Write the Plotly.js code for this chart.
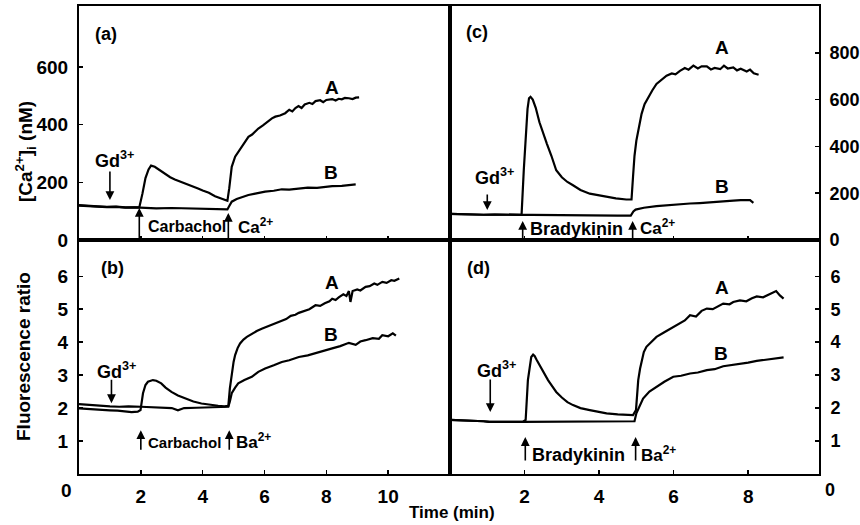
<!DOCTYPE html>
<html><head><meta charset="utf-8">
<script src="https://cdn.plot.ly/plotly-3.0.1.min.js"></script>
<style>body{margin:0;background:#fff}#chart{width:860px;height:525px}</style>
</head><body><div id="chart"></div><script>
// ---- Data ----
// Panel (a): [Ca2+]i (nM), carbachol then Ca2+
const aA_x = [0,0.3,0.6,0.9,1.2,1.5,1.8,1.95,2.05,2.15,2.25,2.33,2.45,2.6,2.77,2.95,3.1,3.31,3.5,3.7,3.85,4.0,4.2,4.4,4.55,4.72,4.8,4.86,4.94,5.05,5.15,5.26,5.37,5.48,5.6,5.7,5.8,5.95,6.1,6.24,6.35,6.5,6.67,6.8,6.9,7.0,7.1,7.2,7.3,7.45,7.55,7.65,7.8,7.9,8.0,8.1,8.19,8.3,8.4,8.5,8.6,8.73,8.85,8.95,9.06];
const aA_y = [121,118,117,115,116,113,114,113,160,215,245,258,254,243,231,218,210,202,194,186,179,172,164,152,146,139,136,180,254,289,305,324,338,358,366,378,387,398,412,422,428,432,440,452,446,458,465,458,470,476,472,482,485,478,486,488,489,484,490,488,493,492,489,494,495];
const aB_x = [0,0.3,0.6,0.9,1.2,1.5,1.8,2.1,2.5,3.0,3.5,4.0,4.5,4.8,4.86,4.94,5.1,5.3,5.48,5.7,6.02,6.3,6.56,6.8,7.1,7.4,7.7,8.0,8.19,8.5,8.7,8.95];
const aB_y = [119,117,116,114,115,112,113,111,110,111,109,108,107,106,118,133,142,150,156,161,168,171,176,175,179,182,181,185,187,188,190,193];
// Panel (c): [Ca2+]i (nM), bradykinin then Ca2+
const cA_x = [0,0.3,0.6,0.9,1.2,1.5,1.75,1.92,1.98,2.03,2.08,2.12,2.16,2.22,2.3,2.4,2.5,2.6,2.72,2.85,3.0,3.15,3.3,3.5,3.75,4.0,4.2,4.45,4.73,4.87,4.91,4.95,5.0,5.07,5.14,5.22,5.32,5.43,5.54,5.67,5.81,5.95,6.05,6.17,6.3,6.4,6.53,6.65,6.75,6.89,7.0,7.1,7.25,7.35,7.45,7.6,7.7,7.8,7.96,8.05,8.15,8.28];
const cA_y = [112,110,111,108,109,107,108,107,300,456,560,606,612,600,565,503,455,411,360,298,268,248,234,214,198,190,184,178,173,173,269,360,425,490,539,580,610,640,667,685,702,712,708,723,735,728,745,733,742,742,729,735,730,745,733,738,725,732,720,728,712,706];
const cB_x = [0,0.3,0.6,0.9,1.2,1.5,1.75,1.92,2.2,2.6,3.0,3.5,4.0,4.5,4.85,4.92,4.98,5.2,5.54,5.8,6.1,6.44,6.7,7.0,7.33,7.6,7.8,8.05,8.14];
const cB_y = [112,110,111,108,109,107,108,107,107,106,106,105,105,104,104,122,130,138,145,149,152,156,158,162,167,168,170,170,159];
// Panel (b): fluorescence ratio, carbachol then Ba2+
const bA_x = [0,0.25,0.5,0.75,1.0,1.25,1.5,1.7,1.9,1.99,2.07,2.15,2.23,2.39,2.5,2.66,2.8,2.99,3.2,3.42,3.7,3.96,4.2,4.5,4.7,4.83,4.88,4.94,5.0,5.05,5.13,5.21,5.32,5.43,5.6,5.75,5.91,6.1,6.3,6.56,6.7,6.85,7.0,7.11,7.3,7.45,7.65,7.8,7.95,8.1,8.19,8.3,8.4,8.55,8.65,8.73,8.78,8.85,9.0,9.1,9.27,9.4,9.55,9.65,9.81,9.95,10.1,10.2,10.36];
const bA_y = [1.99,1.97,1.96,1.95,1.93,1.92,1.9,1.88,1.89,1.94,2.45,2.7,2.8,2.85,2.83,2.75,2.62,2.49,2.38,2.29,2.2,2.14,2.1,2.07,2.05,2.07,2.6,3.05,3.4,3.61,3.82,3.96,4.08,4.16,4.27,4.34,4.41,4.48,4.56,4.67,4.7,4.8,4.83,4.89,4.95,5.0,5.12,5.1,5.18,5.24,5.32,5.28,5.36,5.45,5.4,5.55,5.22,5.55,5.6,5.57,5.68,5.7,5.78,5.74,5.83,5.8,5.88,5.86,5.93];
const bB_x = [0,0.25,0.5,0.75,1.0,1.3,1.6,2.0,2.4,2.8,3.0,3.2,3.4,3.8,4.2,4.6,4.83,4.88,4.94,5.05,5.15,5.35,5.59,5.8,6.02,6.3,6.56,6.8,7.11,7.4,7.65,7.9,8.19,8.45,8.73,8.95,9.1,9.27,9.5,9.7,9.81,10.0,10.15,10.25];
const bB_y = [2.12,2.1,2.09,2.07,2.05,2.04,2.05,2.04,2.03,2.02,2.0,1.93,2.0,2.01,2.02,2.03,2.04,2.2,2.45,2.62,2.75,2.85,2.95,3.1,3.2,3.3,3.4,3.45,3.55,3.6,3.66,3.73,3.81,3.88,3.98,3.92,4.02,4.06,4.12,4.1,4.21,4.18,4.27,4.2];
// Panel (d): fluorescence ratio, bradykinin then Ba2+
const dA_x = [0,0.3,0.6,0.9,1.06,1.3,1.6,1.95,2.03,2.09,2.14,2.18,2.23,2.27,2.33,2.4,2.5,2.63,2.75,2.85,3.0,3.15,3.3,3.5,3.75,4.0,4.2,4.5,4.75,4.91,4.99,5.05,5.1,5.14,5.2,5.27,5.4,5.54,5.75,5.99,6.2,6.3,6.44,6.6,6.75,6.89,7.05,7.2,7.33,7.5,7.6,7.78,7.95,8.1,8.23,8.4,8.55,8.68,8.75,8.85,8.95];
const dA_y = [1.64,1.63,1.62,1.6,1.58,1.59,1.58,1.58,1.64,2.85,3.35,3.55,3.62,3.58,3.45,3.3,3.1,2.85,2.65,2.49,2.32,2.18,2.09,2.0,1.94,1.88,1.84,1.81,1.8,1.79,1.94,2.85,3.2,3.45,3.7,3.86,4.02,4.16,4.3,4.46,4.6,4.66,4.82,4.78,4.95,5.02,5.0,5.1,5.17,5.15,5.22,5.27,5.24,5.33,5.39,5.36,5.44,5.49,5.55,5.42,5.32];
const dB_x = [0,0.3,0.6,0.9,1.06,1.3,1.6,1.95,2.3,2.8,3.3,3.8,4.3,4.7,4.95,5.0,5.08,5.18,5.35,5.54,5.75,5.99,6.2,6.44,6.65,6.89,7.1,7.33,7.55,7.78,8.0,8.23,8.5,8.7,8.95];
const dB_y = [1.64,1.63,1.62,1.6,1.58,1.59,1.58,1.58,1.58,1.59,1.58,1.59,1.6,1.6,1.6,1.84,2.05,2.29,2.5,2.65,2.8,2.95,2.98,3.05,3.08,3.15,3.18,3.27,3.3,3.35,3.38,3.43,3.47,3.5,3.54];

// tick labels
const ticksCaLeft = [0,200,400,600];
const ticksCaRight = [0,200,400,600,800];
const ticksRatio = [1,2,3,4,5,6];
const ticksTimeLeft = [2,4,6,8,10];
const ticksTimeRight = [2,4,6,8];

// ---- Layout ----
const W = 860, H = 525;
const F = 'Liberation Sans, Arial, sans-serif';
const px = x => x / W, py = y => 1 - y / H;
const font = (s) => ({family: F, size: s, color: '#000', weight: 'bold'});

function line(x, y, xa, ya) {
  return {x, y, xaxis: xa, yaxis: ya, type: 'scatter', mode: 'lines',
    line: {color: '#000', width: 2.2}, hoverinfo: 'skip', showlegend: false};
}
const data = [
  line(aA_x, aA_y, 'x', 'y'), line(aB_x, aB_y, 'x', 'y'),
  line(cA_x, cA_y, 'x2', 'y2'), line(cB_x, cB_y, 'x2', 'y2'),
  line(bA_x, bA_y, 'x3', 'y3'), line(bB_x, bB_y, 'x3', 'y3'),
  line(dA_x, dA_y, 'x4', 'y4'), line(dB_x, dB_y, 'x4', 'y4')
];

const base = {showline: true, linecolor: '#000', linewidth: 2, mirror: true,
  ticks: 'inside', ticklen: 4, tickwidth: 1.5, tickcolor: '#000',
  showgrid: false, zeroline: false, tickfont: font(19), fixedrange: true};
const ax = (o) => Object.assign({}, base, o);

const xL = [px(79), px(450)], xR = [px(450), px(819)];
const yT = [py(240), py(6)], yB = [py(474), py(240)];

function txt(x, y, text, size, anchor, angle) {
  return {xref: 'paper', yref: 'paper', x: px(x), y: py(y), text, showarrow: false,
    xanchor: anchor || 'center', yanchor: 'middle', font: font(size), textangle: angle || 0};
}
function arr(xa, ya, x, y, ayOff) {
  return {xref: xa, yref: ya, x, y, ax: 0, ay: ayOff, text: '', showarrow: true,
    arrowhead: 2, arrowsize: 1.1, arrowwidth: 1.6, arrowcolor: '#000'};
}

const annotations = [
  txt(106, 34, '(a)', 18), txt(477, 32, '(c)', 18), txt(112, 268, '(b)', 18), txt(478, 268, '(d)', 18),
  txt(332, 87, 'A', 19), txt(331, 172, 'B', 19),
  txt(722, 47, 'A', 19), txt(722, 186, 'B', 19),
  txt(332, 282, 'A', 19), txt(331, 334, 'B', 19),
  txt(722, 287, 'A', 19), txt(721, 353, 'B', 19),
  txt(115, 159, 'Gd<sup>3+</sup>', 18), txt(494, 176, 'Gd<sup>3+</sup>', 18),
  txt(116, 370, 'Gd<sup>3+</sup>', 18), txt(497, 369, 'Gd<sup>3+</sup>', 18),
  txt(146, 227, 'Carbachol', 16, 'left'), txt(236, 226, 'Ca<sup>2+</sup>', 17, 'left'),
  txt(528, 229, 'Bradykinin', 18, 'left'), txt(638, 227, 'Ca<sup>2+</sup>', 17, 'left'),
  txt(146, 442, 'Carbachol', 15, 'left'), txt(234, 441, 'Ba<sup>2+</sup>', 17, 'left'),
  txt(530, 455, 'Bradykinin', 18, 'left'), txt(639, 454, 'Ba<sup>2+</sup>', 17, 'left'),
  arr('x', 'y', 1.0, 139, -30), arr('x2', 'y2', 1.0, 128, -17),
  arr('x3', 'y3', 1.05, 2.15, -25), arr('x4', 'y4', 1.08, 1.88, -34),
  arr('x', 'y', 1.95, 111, 32), arr('x', 'y', 4.83, 94, 27),
  arr('x2', 'y2', 1.95, 81, 19), arr('x2', 'y2', 4.9, 81, 19),
  arr('x3', 'y3', 2.0, 1.33, 21), arr('x3', 'y3', 4.86, 1.33, 21),
  arr('x4', 'y4', 2.02, 1.12, 25), arr('x4', 'y4', 4.98, 1.12, 25),
  txt(25, 152, '[Ca<sup>2+</sup>]<sub>i</sub> (nM)', 19, 'center', -90),
  txt(23, 357, 'Fluorescence ratio', 19, 'center', -90),
  txt(452, 512, 'Time (min)', 17),
  txt(66, 490, '0', 19), txt(830, 490, '0', 18)
];

const layout = {
  width: W, height: H, margin: {l: 0, r: 0, t: 0, b: 0},
  paper_bgcolor: '#fff', plot_bgcolor: '#fff', showlegend: false,
  xaxis: ax({domain: xL, range: [0, 12], anchor: 'y', tickvals: ticksTimeLeft, showticklabels: false}),
  yaxis: ax({domain: yT, range: [0, 812], anchor: 'x', tickvals: ticksCaLeft, ticklabelstandoff: 5}),
  xaxis2: ax({domain: xR, range: [0, 9.9], anchor: 'y2', tickvals: ticksTimeRight, showticklabels: false}),
  yaxis2: ax({domain: yT, range: [0, 1000], anchor: 'x2', side: 'right', tickvals: ticksCaRight, ticklabelstandoff: 5, tickfont: font(18)}),
  xaxis3: ax({domain: xL, range: [0, 12], anchor: 'y3', tickvals: ticksTimeLeft, ticklabelstandoff: 4}),
  yaxis3: ax({domain: yB, range: [0, 7.1], anchor: 'x3', tickvals: ticksRatio, ticklabelstandoff: 5}),
  xaxis4: ax({domain: xR, range: [0, 9.9], anchor: 'y4', tickvals: ticksTimeRight, ticklabelstandoff: 4}),
  yaxis4: ax({domain: yB, range: [0, 7.1], anchor: 'x4', side: 'right', tickvals: ticksRatio, ticklabelstandoff: 6, tickfont: font(18)}),
  annotations
};
Plotly.newPlot('chart', data, layout, {displayModeBar: false, staticPlot: true});
</script></body></html>
